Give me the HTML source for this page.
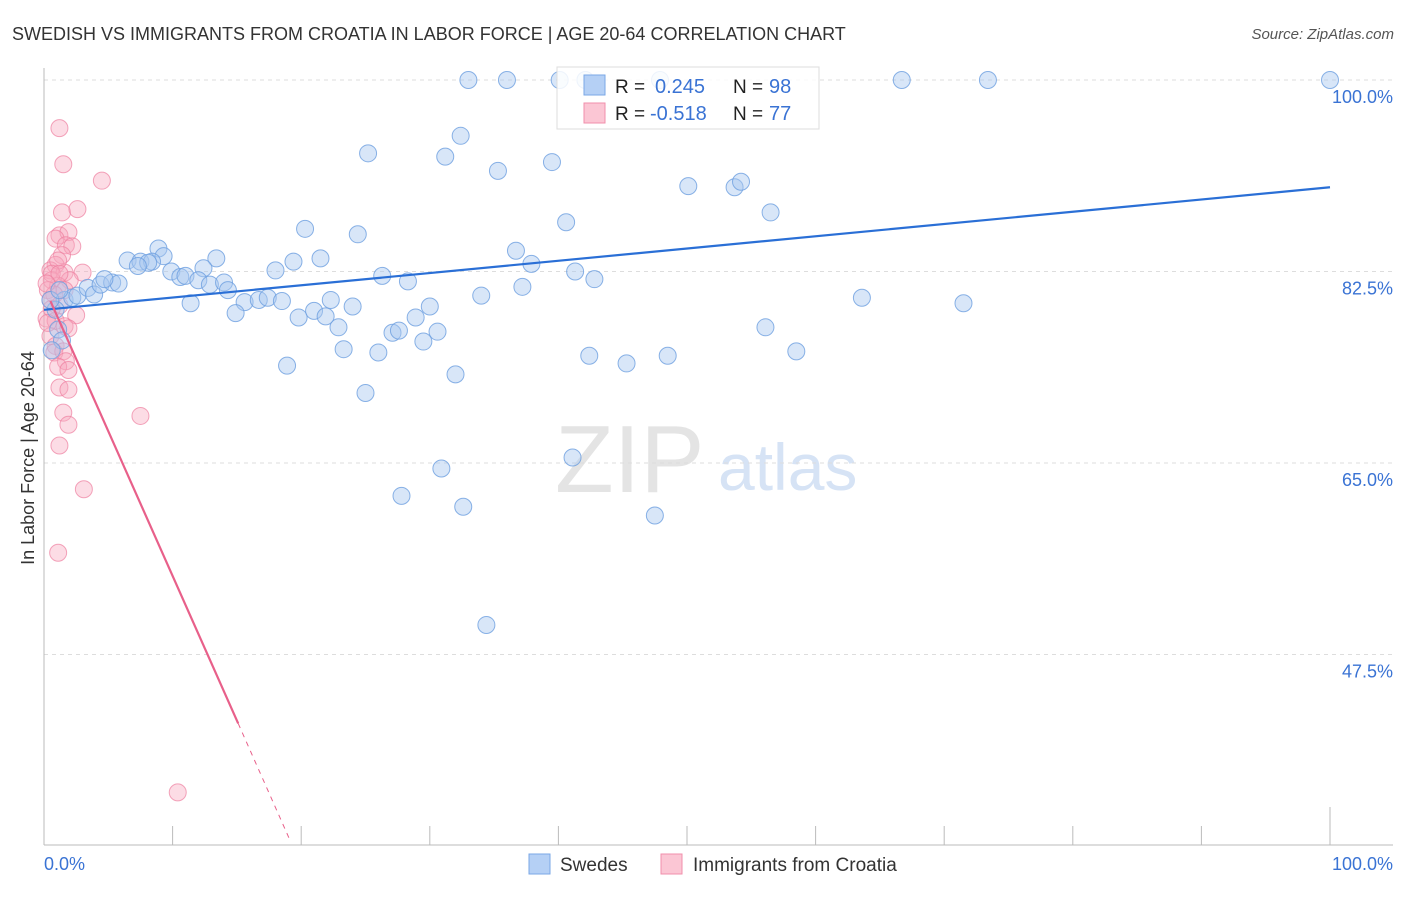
<!DOCTYPE html>
<html><head><meta charset="utf-8"><style>
body{margin:0;background:#fff;font-family:"Liberation Sans",sans-serif}
svg text{font-family:"Liberation Sans",sans-serif}
</style></head><body>
<svg id="c" width="1406" height="892" xmlns="http://www.w3.org/2000/svg">
<text x="12" y="40" font-size="18" fill="#333">SWEDISH VS IMMIGRANTS FROM CROATIA IN LABOR FORCE | AGE 20-64 CORRELATION CHART</text>
<text x="1394" y="39" font-size="15" fill="#555" font-style="italic" text-anchor="end">Source: ZipAtlas.com</text>
<text x="34" y="458" font-size="18" fill="#333" text-anchor="middle" transform="rotate(-90 34 458)">In Labor Force | Age 20-64</text>
<text x="555" y="492" font-size="96" fill="#e4e4e4" font-family="Liberation Serif">ZIP</text>
<text x="718" y="490" font-size="66" fill="#d6e3f5">atlas</text>
<g id="grid"></g><g id="pts"></g><g id="lines"></g>
<g>
<rect x="557" y="67" width="262" height="62" fill="#fff" fill-opacity="0.85" stroke="#ddd"/>
<rect x="584" y="75" width="21" height="20" fill="#b5d0f5" stroke="#7aa7e6"/>
<rect x="584" y="103" width="21" height="20" fill="#fbc6d4" stroke="#f08fab"/>
<text x="615" y="93" font-size="19" fill="#222">R = </text><text x="655" y="93" font-size="20" fill="#3a73d4">0.245</text>
<text x="733" y="93" font-size="19" fill="#222">N = </text><text x="769" y="93" font-size="20" fill="#3a73d4">98</text>
<text x="615" y="120" font-size="19" fill="#222">R = </text><text x="650" y="120" font-size="20" fill="#3a73d4">-0.518</text>
<text x="733" y="120" font-size="19" fill="#222">N = </text><text x="769" y="120" font-size="20" fill="#3a73d4">77</text>
</g>
<g>
<rect x="529" y="854" width="21" height="20" fill="#b5d0f5" stroke="#7aa7e6"/>
<text x="560" y="871" font-size="19" fill="#333">Swedes</text>
<rect x="661" y="854" width="21" height="20" fill="#fbc6d4" stroke="#f08fab"/>
<text x="693" y="871" font-size="19" fill="#333">Immigrants from Croatia</text>
</g>
</svg>
<script>
const yTicks=[100,82.5,65,47.5];
const yTickLabels=["100.0%","82.5%","65.0%","47.5%"];
const xTicks=[0,10,20,30,40,50,60,70,80,90,100];
const swedesX=[33.0,36.0,40.1,42.1,47.9,66.7,73.4,100,32.4,25.2,31.2,35.3,39.5,50.1,53.7,54.2,56.5,40.6,20.3,24.4,36.7,37.9,8.9,9.3,13.4,6.5,7.5,8.4,8.1,7.3,12.4,18.0,19.4,21.5,9.9,10.6,11.0,12.0,12.9,14.0,14.3,15.6,16.7,17.4,18.5,11.4,14.9,19.8,21.0,21.9,22.9,22.3,24.0,26.3,28.3,30.0,28.9,30.6,27.1,27.6,29.5,23.3,26.0,18.9,25.0,32.0,34.0,37.2,41.3,42.8,42.4,45.3,48.5,56.1,58.5,63.6,71.5,30.9,27.8,32.6,41.1,47.5,34.4,1.6,2.2,2.6,3.4,3.9,4.4,5.3,5.8,4.7,0.9,1.1,1.4,0.6,0.5,1.2];
const swedesY=[100,100,100,100,100,100,100,100,94.9,93.3,93.0,91.7,92.5,90.3,90.2,90.7,87.9,87.0,86.4,85.9,84.4,83.2,84.6,83.9,83.7,83.5,83.4,83.4,83.3,83.0,82.8,82.6,83.4,83.7,82.5,82.0,82.1,81.7,81.3,81.5,80.8,79.7,79.9,80.1,79.8,79.6,78.7,78.3,78.9,78.4,77.4,79.9,79.3,82.1,81.6,79.3,78.3,77.0,76.9,77.1,76.1,75.4,75.1,73.9,71.4,73.1,80.3,81.1,82.5,81.8,74.8,74.1,74.8,77.4,75.2,80.1,79.6,64.5,62.0,61.0,65.5,60.2,50.2,79.9,80.1,80.3,81.0,80.4,81.3,81.5,81.4,81.8,79.0,77.2,76.2,75.3,79.9,80.8];
const croX=[1.2,1.5,4.5,1.4,2.6,1.2,1.9,0.9,1.7,2.2,1.4,0.9,0.5,1.6,3.0,2.0,0.6,1.1,0.3,1.6,0.8,0.5,1.2,2.5,0.2,0.9,1.6,1.9,0.5,0.9,0.8,1.5,1.7,1.1,1.9,1.2,1.9,1.5,1.9,1.2,7.5,3.1,1.1,10.4,1.1,0.6,1.2,0.2,0.6,0.3];
const croY=[95.6,92.3,90.8,87.9,88.2,85.8,86.1,85.5,84.9,84.8,84.0,83.1,82.6,82.4,82.4,81.7,81.7,81.2,80.8,80.8,80.4,79.9,79.4,78.5,78.2,78.0,77.5,77.3,76.6,75.7,75.1,75.2,74.3,73.8,73.5,71.9,71.7,69.6,68.5,66.6,69.3,62.6,56.8,34.9,83.5,82.3,82.3,81.4,79.1,77.8];
const blueLine=[[0,79.0],[100,90.2]];
const pinkLine=[[0.5,79.8],[15.1,41.2]];
const pinkDash=[[15.1,41.2],[19.1,30.6]];
const NS="http://www.w3.org/2000/svg";
const X=v=>44+v*12.86, Y=v=>80+(100-v)*191.5/17.5;
function mk(tag,attrs,parent){const e=document.createElementNS(NS,tag);for(const k in attrs)e.setAttribute(k,attrs[k]);document.getElementById(parent).appendChild(e);return e;}
yTicks.forEach((t,i)=>{
 const l=mk('line',{x1:44,x2:1393,y1:Y(t),y2:Y(t),stroke:'#ddd','stroke-dasharray':'4,4'},'grid');
 
 
 const tx=mk('text',{x:1393,y:Y(t)+23,'font-size':18,fill:'#3a73d4','text-anchor':'end'},'grid');
 tx.textContent=yTickLabels[i];
 
 
});
const ax=mk('line',{x1:44,x2:44,y1:68,y2:845,stroke:'#bbb'},'grid');


const bx=mk('line',{x1:44,x2:1393,y1:845,y2:845,stroke:'#bbb'},'grid');


xTicks.forEach(t=>{
 const l=mk('line',{x1:X(t),x2:X(t),y1:(t===100?807:826),y2:845,stroke:'#bbb'},'grid');
 
 
});
const x0=mk('text',{x:44,y:870,'font-size':18,fill:'#3a73d4'},'grid');x0.textContent='0.0%';


const x1=mk('text',{x:1393,y:870,'font-size':18,fill:'#3a73d4','text-anchor':'end'},'grid');x1.textContent='100.0%';


croX.forEach((v,i)=>{
 const c=mk('circle',{cx:X(v),cy:Y(croY[i]),r:8.5,fill:'#f7a8be','fill-opacity':0.4,stroke:'#ee7fa0','stroke-opacity':0.7},'pts');
 
 
});
swedesX.forEach((v,i)=>{
 const c=mk('circle',{cx:X(v),cy:Y(swedesY[i]),r:8.5,fill:'#a9c8f0','fill-opacity':0.45,stroke:'#6d9fe0','stroke-opacity':0.8},'pts');
 
 
});
const bl=mk('line',{x1:X(blueLine[0][0]),y1:Y(blueLine[0][1]),x2:X(blueLine[1][0]),y2:Y(blueLine[1][1]),stroke:'#2a6fd6','stroke-width':2.2},'lines');


const pl=mk('line',{x1:X(pinkLine[0][0]),y1:Y(pinkLine[0][1]),x2:X(pinkLine[1][0]),y2:Y(pinkLine[1][1]),stroke:'#e8608a','stroke-width':2.2},'lines');


const pd=mk('line',{x1:X(pinkDash[0][0]),y1:Y(pinkDash[0][1]),x2:X(pinkDash[1][0]),y2:Y(pinkDash[1][1]),stroke:'#e8608a','stroke-width':1,'stroke-dasharray':'5,5'},'lines');


</script>
</body></html>
